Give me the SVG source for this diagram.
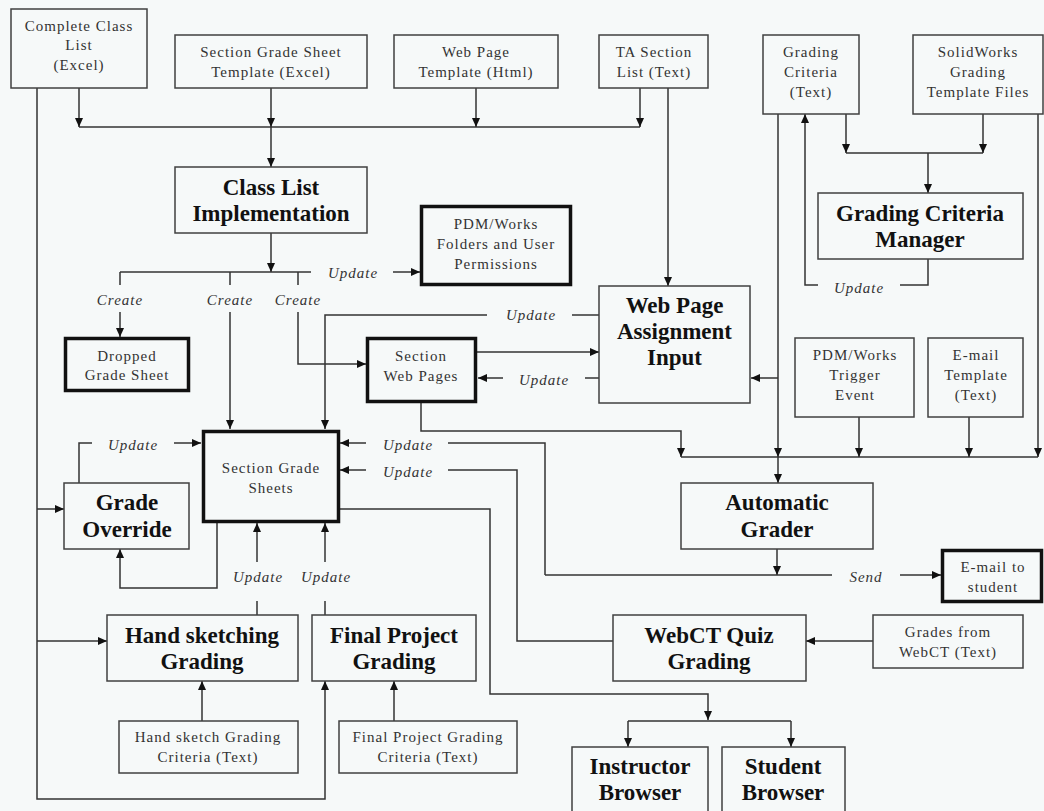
<svg xmlns="http://www.w3.org/2000/svg" width="1044" height="811" viewBox="0 0 1044 811">
<style>
.bx{fill:#f6f9f9;stroke:#404040;stroke-width:1.5}
.tk{fill:#f6f9f9;stroke:#111;stroke-width:3.5}
.t{font-family:"Liberation Serif","Times New Roman",serif;font-size:15px;letter-spacing:1px;fill:#333;text-anchor:middle}
.b{font-family:"Liberation Serif","Times New Roman",serif;font-size:23px;font-weight:bold;fill:#111;text-anchor:middle}
.l{font-family:"Liberation Serif","Times New Roman",serif;font-size:15px;letter-spacing:1px;font-style:italic;fill:#333;text-anchor:middle}
.c{fill:none;stroke:#333;stroke-width:1.5}
.a{marker-end:url(#ah)}
</style>
<defs>
<marker id="ah" markerUnits="userSpaceOnUse" markerWidth="10" markerHeight="9" refX="9" refY="4" orient="auto">
<path d="M0,0 L9,4 L0,8 z" fill="#111"/>
</marker>
</defs>
<rect width="1044" height="811" fill="#f6f9f9"/>

<g id="connectors">
<path class="c" d="M79,127 H640"/>
<path class="c a" d="M79,88 V127"/>
<path class="c a" d="M271,88 V127"/>
<path class="c a" d="M476,88 V127"/>
<path class="c a" d="M640,88 V127"/>
<path class="c a" d="M271,127 V167"/>
<path class="c a" d="M668,88 V286"/>
<path class="c a" d="M271,233 V272"/>
<path class="c" d="M120,272 H311"/>
<path class="c a" d="M393,272 H420"/>
<path class="c" d="M120,272 V285 M230,272 V285 M298,272 V285"/>
<path class="c a" d="M120,312 V337"/>
<path class="c a" d="M230,312 V429"/>
<path class="c a" d="M298,312 V364 H366"/>
<path class="c" d="M599,315 H572"/>
<path class="c a" d="M487,315 H325 V429"/>
<path class="c a" d="M477,352 H599"/>
<path class="c" d="M599,378 H585"/>
<path class="c a" d="M503,378 H478"/>
<path class="c a" d="M421,403 V431 H681 V457"/>
<path class="c" d="M681,457 H1038"/>
<path class="c a" d="M778,114 V457"/>
<path class="c a" d="M778,378 H751"/>
<path class="c a" d="M859,417 V457"/>
<path class="c a" d="M969,417 V457"/>
<path class="c a" d="M1038,114 V457"/>
<path class="c a" d="M778,457 V483"/>
<path class="c" d="M846,153 H983"/>
<path class="c a" d="M846,114 V153"/>
<path class="c a" d="M983,114 V153"/>
<path class="c a" d="M928,153 V193"/>
<path class="c" d="M928,259 V285 H900"/>
<path class="c a" d="M818,285 H805 V114"/>
<path class="c a" d="M777,549 V575"/>
<path class="c" d="M545,575 H832"/>
<path class="c a" d="M900,575 H941"/>
<path class="c" d="M545,575 V443 H448"/>
<path class="c a" d="M366,443 H340"/>
<path class="c" d="M613,641 H517 V470 H448"/>
<path class="c a" d="M366,470 H340"/>
<path class="c a" d="M340,509 H490 V694 H708 V720"/>
<path class="c" d="M628,721 H791"/>
<path class="c a" d="M628,721 V747"/>
<path class="c a" d="M791,721 V747"/>
<path class="c a" d="M873,641 H806"/>
<path class="c a" d="M37,88 V799 H325 V681"/>
<path class="c a" d="M37,509 H64"/>
<path class="c a" d="M37,641 H107"/>
<path class="c" d="M79,483 V443 H92"/>
<path class="c a" d="M174,443 H201"/>
<path class="c a" d="M217,523 V588 H120 V549"/>
<path class="c" d="M257,615 V601 M325,615 V601"/>
<path class="c a" d="M257,562 V523"/>
<path class="c a" d="M325,562 V523"/>
<path class="c a" d="M202,721 V681"/>
<path class="c a" d="M394,721 V681"/>
<text class="l" x="353" y="278">Update</text>
<text class="l" x="120" y="305">Create</text>
<text class="l" x="230" y="305">Create</text>
<text class="l" x="298" y="305">Create</text>
<text class="l" x="531" y="320">Update</text>
<text class="l" x="544" y="385">Update</text>
<text class="l" x="859" y="293">Update</text>
<text class="l" x="133" y="450">Update</text>
<text class="l" x="408" y="450">Update</text>
<text class="l" x="408" y="477">Update</text>
<text class="l" x="258" y="582">Update</text>
<text class="l" x="326" y="582">Update</text>
<text class="l" x="866" y="582">Send</text>
</g>

<g id="complete-class-list"><rect class="bx" x="11" y="9" width="136" height="79"/>
<text class="t" x="79" y="31">Complete Class</text><text class="t" x="79" y="50">List</text><text class="t" x="79" y="70">(Excel)</text></g>

<g id="section-grade-sheet-template"><rect class="bx" x="175" y="35" width="192" height="53"/>
<text class="t" x="271" y="57">Section Grade Sheet</text><text class="t" x="271" y="77">Template (Excel)</text></g>

<g id="web-page-template"><rect class="bx" x="394" y="35" width="164" height="53"/>
<text class="t" x="476" y="57">Web Page</text><text class="t" x="476" y="77">Template (Html)</text></g>

<g id="ta-section-list"><rect class="bx" x="599" y="35" width="109" height="53"/>
<text class="t" x="654" y="57">TA Section</text><text class="t" x="654" y="77">List (Text)</text></g>

<g id="grading-criteria"><rect class="bx" x="763" y="35" width="96" height="79"/>
<text class="t" x="811" y="57">Grading</text><text class="t" x="811" y="77">Criteria</text><text class="t" x="811" y="97">(Text)</text></g>

<g id="solidworks-templates"><rect class="bx" x="913" y="35" width="130" height="79"/>
<text class="t" x="978" y="57">SolidWorks</text><text class="t" x="978" y="77">Grading</text><text class="t" x="978" y="97">Template Files</text></g>

<g id="class-list-implementation"><rect class="bx" x="175" y="167" width="192" height="66"/>
<text class="b" x="271" y="195">Class List</text><text class="b" x="271" y="221">Implementation</text></g>

<g id="pdm-folders"><rect class="tk" x="421.5" y="206.5" width="149" height="78"/>
<text class="t" x="496" y="229">PDM/Works</text><text class="t" x="496" y="249">Folders and User</text><text class="t" x="496" y="269">Permissions</text></g>

<g id="grading-criteria-manager"><rect class="bx" x="818" y="193" width="205" height="66"/>
<text class="b" x="920" y="221">Grading Criteria</text><text class="b" x="920" y="247">Manager</text></g>

<g id="dropped-grade-sheet"><rect class="tk" x="65.5" y="338.5" width="123" height="52"/>
<text class="t" x="127" y="361">Dropped</text><text class="t" x="127" y="380">Grade Sheet</text></g>

<g id="section-web-pages"><rect class="tk" x="367.5" y="338.5" width="108" height="63"/>
<text class="t" x="421" y="361">Section</text><text class="t" x="421" y="381">Web Pages</text></g>

<g id="web-page-assignment-input"><rect class="bx" x="599" y="286" width="151" height="117"/>
<text class="b" x="674.5" y="313">Web Page</text><text class="b" x="674.5" y="339">Assignment</text><text class="b" x="674.5" y="365">Input</text></g>

<g id="pdm-trigger-event"><rect class="bx" x="795" y="338" width="119" height="79"/>
<text class="t" x="855" y="360">PDM/Works</text><text class="t" x="855" y="380">Trigger</text><text class="t" x="855" y="400">Event</text></g>

<g id="email-template"><rect class="bx" x="928" y="338" width="95" height="79"/>
<text class="t" x="976" y="360">E-mail</text><text class="t" x="976" y="380">Template</text><text class="t" x="976" y="400">(Text)</text></g>

<g id="section-grade-sheets"><rect class="tk" x="203.5" y="431.5" width="135" height="90"/>
<text class="t" x="271" y="473">Section Grade</text><text class="t" x="271" y="493">Sheets</text></g>

<g id="grade-override"><rect class="bx" x="64" y="483" width="125" height="66"/>
<text class="b" x="127" y="510">Grade</text><text class="b" x="127" y="537">Override</text></g>

<g id="automatic-grader"><rect class="bx" x="681" y="483" width="192" height="66"/>
<text class="b" x="777" y="510">Automatic</text><text class="b" x="777" y="537">Grader</text></g>

<g id="email-to-student"><rect class="tk" x="942.5" y="550.5" width="99" height="51"/>
<text class="t" x="993" y="572">E-mail to</text><text class="t" x="993" y="592">student</text></g>

<g id="hand-sketching-grading"><rect class="bx" x="107" y="615" width="191" height="66"/>
<text class="b" x="202" y="643">Hand sketching</text><text class="b" x="202" y="669">Grading</text></g>

<g id="final-project-grading"><rect class="bx" x="312" y="615" width="164" height="66"/>
<text class="b" x="394" y="643">Final Project</text><text class="b" x="394" y="669">Grading</text></g>

<g id="webct-quiz-grading"><rect class="bx" x="613" y="615" width="193" height="66"/>
<text class="b" x="709" y="643">WebCT Quiz</text><text class="b" x="709" y="669">Grading</text></g>

<g id="grades-from-webct"><rect class="bx" x="873" y="615" width="150" height="53"/>
<text class="t" x="948" y="637">Grades from</text><text class="t" x="948" y="657">WebCT (Text)</text></g>

<g id="hand-sketch-criteria"><rect class="bx" x="119" y="721" width="179" height="52"/>
<text class="t" x="208" y="742">Hand sketch Grading</text><text class="t" x="208" y="762">Criteria (Text)</text></g>

<g id="final-project-criteria"><rect class="bx" x="339" y="721" width="178" height="52"/>
<text class="t" x="428" y="742">Final Project Grading</text><text class="t" x="428" y="762">Criteria (Text)</text></g>

<g id="instructor-browser"><rect class="bx" x="572" y="747" width="136" height="80"/>
<text class="b" x="640" y="774">Instructor</text><text class="b" x="640" y="800">Browser</text></g>

<g id="student-browser"><rect class="bx" x="722" y="747" width="123" height="80"/>
<text class="b" x="783" y="774">Student</text><text class="b" x="783" y="800">Browser</text></g>
</svg>
